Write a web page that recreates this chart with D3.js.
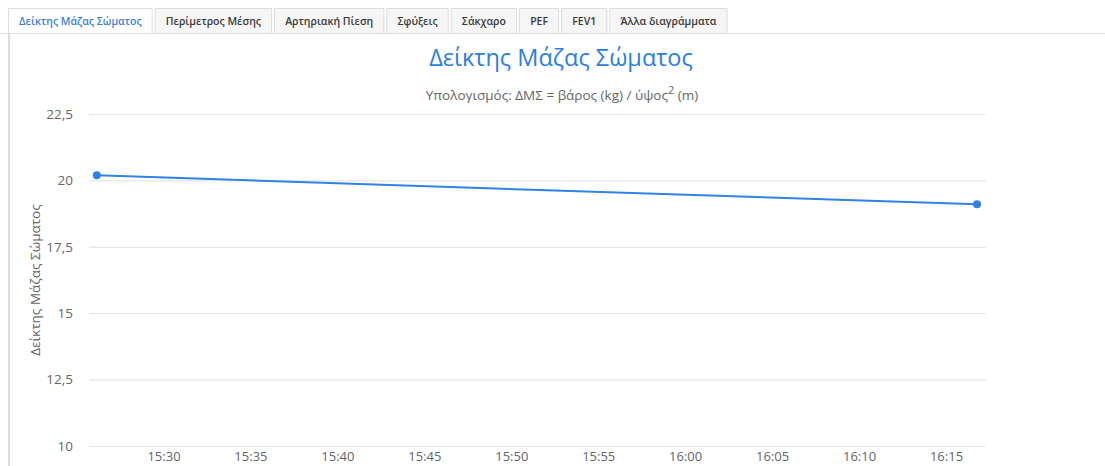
<!DOCTYPE html>
<html>
<head>
<meta charset="utf-8">
<script src="https://cdn.jsdelivr.net/npm/d3@7"></script>
<style>
  html, body { margin: 0; padding: 0; background: #fff; overflow: hidden; }
  svg { display: block; }
</style>
</head>
<body>
<svg id="chart" width="1105" height="466"></svg>
<script>
// Tabs along the top of the panel
const tabLabels = ["Δείκτης Μάζας Σώματος", "Περίμετρος Μέσης", "Αρτηριακή Πίεση", "Σφύξεις", "Σάκχαρο", "PEF", "FEV1", "Άλλα διαγράμματα"];
const activeTab = 0;

// Measurements: time of reading and body mass index
const times = ["2020-01-01T15:26:10", "2020-01-01T16:16:47"];
const bmiValues = [20.19, 19.1];

// Axis settings
const yTicks = [10, 12.5, 15, 17.5, 20, 22.5];
const chartTitle = "Δείκτης Μάζας Σώματος";
const subtitleMain = "Υπολογισμός: ΔΜΣ = βάρος (kg) / ύψος";
const subtitleSup = "2";
const subtitleEnd = " (m)";
const yAxisTitle = "Δείκτης Μάζας Σώματος";

const W = 1105, H = 466;
const svg = d3.select("#chart");
const blue = "#2f82e8";
const chartFont = "'Open Sans', 'DejaVu Sans', sans-serif";

// ---- Tab strip ----
const tabTop = 8, tabBottom = 33, tabLeft = 8, tabGap = 3, tabPad = 10.6;
const tabG = svg.append("g").attr("font-family", chartFont).attr("font-size", 10.5).attr("font-weight", 600);
let x0 = tabLeft;
const tabBoxes = [];
tabLabels.forEach((label, i) => {
  const t = tabG.append("text").text(label).attr("x", -999).attr("y", -999);
  const w = t.node().getComputedTextLength();
  t.remove();
  tabBoxes.push({ label, x: x0, w: w + tabPad * 2, active: i === activeTab });
  x0 += w + tabPad * 2 + tabGap;
});
// panel top border
svg.append("line").attr("x1", 0).attr("x2", W).attr("y1", tabBottom + 0.5).attr("y2", tabBottom + 0.5)
  .attr("stroke", "#ddd");
tabBoxes.forEach(b => {
  tabG.append("rect")
    .attr("x", b.x + 0.5).attr("y", tabTop + 0.5)
    .attr("width", b.w).attr("height", tabBottom - tabTop + (b.active ? 1 : 0))
    .attr("fill", b.active ? "#fff" : "#f6f6f6")
    .attr("stroke", b.active ? "none" : "#ddd");
  if (b.active) {
    tabG.append("path")
      .attr("d", `M${b.x + 0.5},${tabBottom + 1}V${tabTop + 0.5}H${b.x + b.w + 0.5}V${tabBottom + 1}`)
      .attr("fill", "none").attr("stroke", "#ddd");
  }
  tabG.append("text").text(b.label)
    .attr("x", b.x + b.w / 2 + 0.5).attr("y", 24.5)
    .attr("text-anchor", "middle")
    .attr("fill", b.active ? "#3b7fd4" : "#3a3a3a");
});
// panel left border
svg.append("rect").attr("x", 8).attr("y", tabBottom + 1).attr("width", 2).attr("height", H).attr("fill", "#ddd");

// ---- Chart ----
const plot = { left: 89, right: 986, top: 114, bottom: 446 };
const parse = d3.isoParse;
const data = times.map((t, i) => ({ t: parse(t), v: bmiValues[i] }));

const ext = d3.extent(data, d => d.t);
const span = ext[1] - ext[0];
const padL = span * 0.0089, padR = span * 0.0102;
const x = d3.scaleTime()
  .domain([new Date(+ext[0] - padL), new Date(+ext[1] + padR)])
  .range([plot.left, plot.right]);
const y = d3.scaleLinear()
  .domain([d3.min(yTicks), d3.max(yTicks)])
  .range([plot.bottom, plot.top]);

const fmtY = d => d3.format(".1~f")(d).replace(".", ",");

// gridlines
const yAxis = d3.axisLeft(y).tickValues(yTicks).tickFormat(fmtY)
  .tickSize(-(plot.right - plot.left)).tickPadding(16);
const yg = svg.append("g").attr("transform", `translate(${plot.left},0)`).call(yAxis);
yg.select(".domain").remove();
yg.selectAll(".tick line").attr("stroke", "#e6e6e6").attr("stroke-width", 1.2);
yg.selectAll(".tick text").attr("fill", "#666").attr("font-size", 13.5)
  .attr("font-family", chartFont).attr("dy", "0.32em");

// x axis labels every five minutes
const xAxis = d3.axisBottom(x).ticks(d3.timeMinute.every(5)).tickFormat(d3.timeFormat("%H:%M"))
  .tickSize(0).tickPadding(6);
const xg = svg.append("g").attr("transform", `translate(0,${plot.bottom})`).call(xAxis);
xg.select(".domain").remove();
xg.selectAll(".tick text").attr("fill", "#666").attr("font-size", 13).attr("font-family", chartFont);

// series line and markers
const line = d3.line().x(d => x(d.t)).y(d => y(d.v));
svg.append("path").datum(data).attr("d", line)
  .attr("fill", "none").attr("stroke", blue).attr("stroke-width", 2);
svg.append("g").selectAll("circle").data(data).join("circle")
  .attr("cx", d => x(d.t)).attr("cy", d => y(d.v)).attr("r", 4).attr("fill", blue);

// titles
svg.append("text").text(chartTitle)
  .attr("x", 561).attr("y", 66).attr("text-anchor", "middle")
  .attr("font-family", chartFont).attr("font-size", 23.5).attr("fill", "#2b7fe0");

const sub = svg.append("text").attr("x", 562).attr("y", 100).attr("text-anchor", "middle")
  .attr("font-family", chartFont).attr("font-size", 13.5).attr("fill", "#666");
sub.append("tspan").text(subtitleMain);
sub.append("tspan").text(subtitleSup).attr("dy", -6).attr("font-size", 11);
sub.append("tspan").text(subtitleEnd).attr("dy", 6);

svg.append("text").text(yAxisTitle)
  .attr("transform", `translate(40,${(plot.top + plot.bottom) / 2}) rotate(-90)`)
  .attr("text-anchor", "middle")
  .attr("font-family", chartFont).attr("font-size", 13.5).attr("fill", "#666");
</script>
</body>
</html>
